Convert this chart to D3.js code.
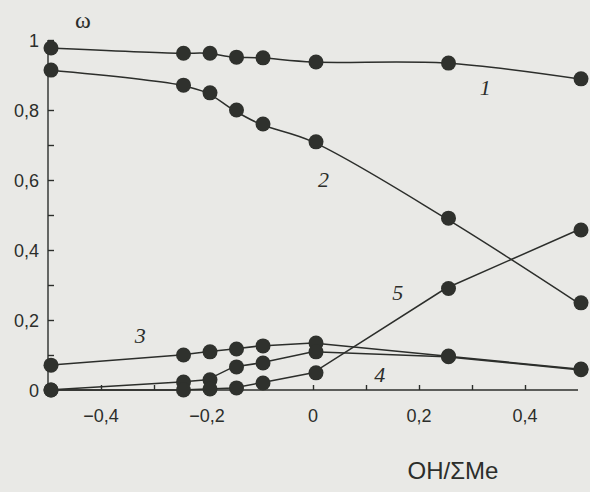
<!DOCTYPE html>
<html>
<head>
<meta charset="utf-8">
<script src="https://d3js.org/d3.v7.min.js"></script>
<style>
  body { margin: 0; background: #e9e9e6; }
  svg { display: block; }
</style>
</head>
<body>
<div id="chart"></div>
<script>
// x positions (OH/ΣMe) shared by every curve
const xValues = [-0.5, -0.25, -0.2, -0.15, -0.1, 0, 0.25, 0.5];
// ω values for curves 1..5
const curve1 = [0.977, 0.962, 0.962, 0.951, 0.949, 0.937, 0.934, 0.889];
const curve2 = [0.914, 0.871, 0.849, 0.800, 0.760, 0.709, 0.491, 0.249];
const curve3 = [0.071, 0.100, 0.109, 0.117, 0.126, 0.134, 0.097, 0.060];
const curve4 = [0.000, 0.023, 0.029, 0.066, 0.077, 0.109, 0.095, 0.058];
const curve5 = [0.000, 0.000, 0.003, 0.006, 0.020, 0.049, 0.290, 0.457];
const xTickLabels = ["\u22120,4", "\u22120,2", "0", "0,2", "0,4"];
const yTickLabels = ["0", "0,2", "0,4", "0,6", "0,8", "1"];
// curve number labels and where they sit (data units)
const curveNames = ["1", "2", "3", "4", "5"];
const curveLabelPos = [[0.325, 0.843], [0.02, 0.58], [-0.326, 0.134], [0.126, 0.023], [0.16, 0.257]];

const width = 590, height = 492;

const svg = d3.select("#chart")
    .append("svg")
    .attr("width", width)
    .attr("height", height);

// scales
const x = d3.scaleLinear().domain([-0.5, 0.5]).range([48, 578]);
const y = d3.scaleLinear().domain([0, 1]).range([390, 40]);

const ink = "#2c2e2b";

// y axis: ticks pointing inward, labels drawn separately
svg.append("g")
    .attr("transform", `translate(${x(-0.5)},0)`)
    .call(d3.axisRight(y).tickValues(d3.range(0, 1.01, 0.1)).tickSize(6).tickFormat(""))
    .call(g => g.selectAll("line, path").attr("stroke", ink).attr("stroke-width", 1.4))
    .call(g => g.select(".domain").attr("d", `M0,${y(0)}V${y(1)}`));

// x axis: ticks pointing up
svg.append("g")
    .attr("transform", `translate(0,${y(0)})`)
    .call(d3.axisTop(x).tickValues([-0.4, -0.3, -0.2, -0.1, 0, 0.1, 0.2, 0.3, 0.4]).tickSize(5).tickFormat(""))
    .call(g => g.selectAll("line, path").attr("stroke", ink).attr("stroke-width", 1.4))
    .call(g => g.select(".domain").attr("d", `M${x(-0.5)},0H${x(0.5)}`));

// tick labels
svg.selectAll(".ylab")
    .data(yTickLabels)
    .enter()
    .append("text")
    .attr("x", 39)
    .attr("y", (d, i) => y(i * 0.2) + 7)
    .attr("text-anchor", "end")
    .attr("font-family", "Liberation Sans, Arial, sans-serif")
    .attr("font-size", "18px")
    .attr("fill", ink)
    .text(d => d);

svg.selectAll(".xlab")
    .data(xTickLabels)
    .enter()
    .append("text")
    .attr("x", (d, i) => x(-0.4 + i * 0.2))
    .attr("y", 422)
    .attr("text-anchor", "middle")
    .attr("font-family", "Liberation Sans, Arial, sans-serif")
    .attr("font-size", "18px")
    .attr("fill", ink)
    .text(d => d);

// axis titles
svg.append("text")
    .attr("x", 83)
    .attr("y", 28)
    .attr("text-anchor", "middle")
    .attr("font-family", "Liberation Serif, serif")
    .attr("font-size", "24px")
    .attr("fill", ink)
    .text("ω");

svg.append("text")
    .attr("x", 453)
    .attr("y", 479)
    .attr("text-anchor", "middle")
    .attr("font-family", "Liberation Sans, Arial, sans-serif")
    .attr("font-size", "24px")
    .attr("fill", ink)
    .text("OH/ΣMe");

// curves: 1 and 2 drawn smooth, the low ones as broken lines
const allCurves = [curve1, curve2, curve3, curve4, curve5];
const smoothLine = d3.line()
    .x(d => x(d[0]))
    .y(d => y(d[1]))
    .curve(d3.curveCatmullRom.alpha(0.5));
const plainLine = d3.line()
    .x(d => x(d[0]))
    .y(d => y(d[1]));

allCurves.forEach(function(vals, k) {
    const pts = xValues.map((xv, i) => [xv, vals[i]]);
    svg.append("path")
        .datum(pts)
        .attr("d", k < 2 ? smoothLine : plainLine)
        .attr("fill", "none")
        .attr("stroke", ink)
        .attr("stroke-width", 1.5);
});

// markers on top
allCurves.forEach(function(vals) {
    svg.append("g")
        .selectAll("circle")
        .data(xValues.map((xv, i) => [xv, vals[i]]))
        .enter()
        .append("circle")
        .attr("cx", d => x(d[0]) + 3)
        .attr("cy", d => y(d[1]))
        .attr("r", 7.5)
        .attr("fill", "#2f312d");
});

// curve numbers
svg.selectAll(".cname")
    .data(curveNames)
    .enter()
    .append("text")
    .attr("x", (d, i) => x(curveLabelPos[i][0]))
    .attr("y", (d, i) => y(curveLabelPos[i][1]))
    .attr("text-anchor", "middle")
    .attr("font-family", "Liberation Serif, serif")
    .attr("font-style", "italic")
    .attr("font-size", "22px")
    .attr("fill", ink)
    .text(d => d);
</script>
</body>
</html>
